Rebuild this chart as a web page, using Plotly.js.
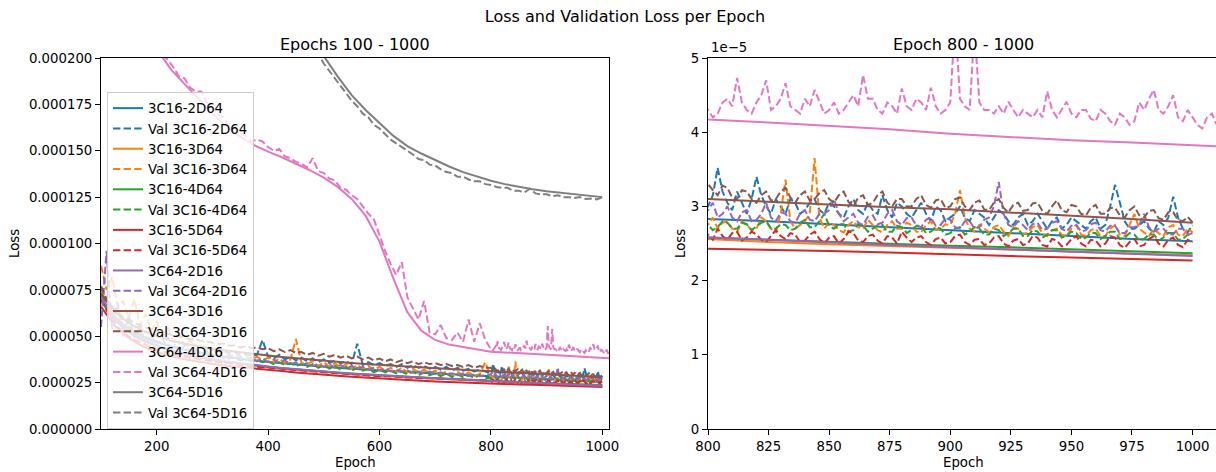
<!DOCTYPE html>
<html><head><meta charset="utf-8">
<script src="https://cdn.plot.ly/plotly-3.0.1.min.js"></script>
<style>html,body{margin:0;padding:0;overflow:hidden;background:#fff}#chart{width:1230px;height:472px}</style>
</head><body><div id="chart"></div>
<script>
// ---------- DATA (loss values in units of 1e-5) ----------
const SCALE = 1e-5;
const models = ['3C16-2D64','3C16-3D64','3C16-4D64','3C16-5D64','3C64-2D16','3C64-3D16','3C64-4D16','3C64-5D16'];
const colors = ['#1f77b4','#ff7f0e','#2ca02c','#d62728','#9467bd','#8c564b','#e377c2','#7f7f7f'];

const epochsTrain = [100,125,150,175,200,225,250,275,300,325,350,375,400,425,450,475,500,525,550,575,600,625,650,675,700,725,750,775,800,825,850,875,900,925,950,975,1000];
const epochsTrainPink = [100,125,150,175,200,225,250,275,300,325,350,375,400,425,450,475,500,525,550,575,600,625,650,675,700,725,750,775,800,825,850,875,900,925,950,975,1000,1025];
const epochsTrainGray = [450,475,500,525,550,575,600,625,650,675,700,725,750,775,800,825,850,875,900,925,950,975,1000];

const epochsValEarly = [100,110,120,130,140,150,160,170,180,190,200,210,220,230,240,250,260,270,280,290,
  300,310,320,330,340,350,360,370,380,390,400,410,420,430,440,450,460,470,480,490,
  500,510,520,530,540,550,560,570,580,590,600,610,620,630,640,650,660,670,680,690,
  700,710,720,730,740,750,760,770,780,790];
const epochsValLate = [800,802,804,806,808,810,812,814,816,818,820,822,824,826,828,830,832,834,836,838,
  840,842,844,846,848,850,852,854,856,858,860,862,864,866,868,870,872,874,876,878,
  880,882,884,886,888,890,892,894,896,898,900,902,904,906,908,910,912,914,916,918,
  920,922,924,926,928,930,932,934,936,938,940,942,944,946,948,950,952,954,956,958,
  960,962,964,966,968,970,972,974,976,978,980,982,984,986,988,990,992,994,996,998,1000];
const epochsValPinkExtra = [1002,1004,1006,1008,1010,1012,1014,1016,1018,1020,1022,1024,1026,1028];
const epochsValGray = [450,460,470,480,490,500,510,520,530,540,550,560,570,580,590,600,610,620,630,640,
  650,660,670,680,690,700,710,720,730,740,750,760,770,780,790,800,810,820,830,840,
  850,860,870,880,890,900,910,920,930,940,950,960,970,980,990,1000];
const epochsVal = epochsValEarly.concat(epochsValLate);
const epochsValPink = epochsVal.concat(epochsValPinkExtra);

// training loss
const loss_3C16_2D64 = [7.00,6.00,5.40,4.98,4.68,4.45,4.27,4.12,3.99,3.88,3.78,3.69,3.61,3.54,3.47,3.41,3.35,3.30,3.25,3.20,3.15,3.11,3.07,3.03,2.99,2.95,2.91,2.87,2.83,2.80,2.76,2.72,2.68,2.64,2.60,2.56,2.53];
const loss_3C16_3D64 = [7.40,6.10,5.35,4.85,4.50,4.24,4.04,3.88,3.74,3.62,3.52,3.43,3.35,3.27,3.20,3.14,3.08,3.02,2.97,2.92,2.88,2.84,2.80,2.76,2.72,2.68,2.64,2.59,2.55,2.52,2.49,2.47,2.44,2.42,2.39,2.37,2.34];
const loss_3C16_4D64 = [6.90,5.85,5.20,4.76,4.45,4.21,4.02,3.86,3.73,3.61,3.51,3.42,3.34,3.27,3.20,3.14,3.08,3.03,2.98,2.93,2.89,2.85,2.81,2.77,2.73,2.70,2.66,2.62,2.58,2.55,2.53,2.50,2.47,2.45,2.42,2.40,2.37];
const loss_3C16_5D64 = [6.60,5.55,4.90,4.45,4.15,3.93,3.76,3.62,3.50,3.41,3.33,3.26,3.20,3.12,3.05,2.98,2.92,2.87,2.82,2.77,2.72,2.68,2.64,2.60,2.56,2.53,2.49,2.46,2.43,2.42,2.40,2.38,2.35,2.33,2.31,2.29,2.27];
const loss_3C64_2D16 = [7.10,6.00,5.30,4.85,4.52,4.27,4.07,3.91,3.77,3.65,3.55,3.45,3.37,3.29,3.22,3.16,3.10,3.04,2.99,2.94,2.90,2.86,2.82,2.78,2.74,2.70,2.66,2.62,2.58,2.55,2.51,2.48,2.45,2.42,2.39,2.36,2.33];
const loss_3C64_3D16 = [7.30,6.30,5.70,5.30,5.00,4.77,4.60,4.46,4.34,4.23,4.13,4.04,3.96,3.88,3.81,3.74,3.68,3.62,3.56,3.51,3.46,3.41,3.36,3.32,3.28,3.24,3.20,3.15,3.10,3.06,3.03,2.99,2.96,2.92,2.88,2.83,2.78];
const loss_3C64_4D16 = [27.0,25.0,23.4,21.9,20.5,19.4,18.6,17.8,17.0,16.3,15.75,15.3,14.95,14.65,14.3,13.95,13.55,13.05,12.4,11.5,10.1,8.1,6.3,5.3,4.8,4.55,4.42,4.3,4.17,4.13,4.09,4.04,3.98,3.93,3.89,3.86,3.83,3.79];
const loss_3C64_5D16 = [22.8,21.3,20.1,19.0,18.0,17.2,16.5,15.8,15.25,14.85,14.5,14.15,13.85,13.6,13.38,13.2,13.05,12.93,12.82,12.73,12.65,12.57,12.5];

// validation loss
const val_3C16_2D64 = [7.6,6.9,6.6,6.3,5.9,5.8,5.5,5.5,5.2,5.2, 5.0,4.9,4.9,4.7,4.7,4.6,4.5,4.5,4.4,4.35,
  4.3,4.25,4.2,4.1,4.15,4.0,4.05,3.95,4.0,4.8, 3.9,3.8,4.0,3.75,3.9,3.7,3.85,3.65,3.8,3.6,
  3.75,3.55,3.7,3.55,3.65,3.5,4.6,3.45,3.6,3.45, 3.55,3.4,3.5,3.35,3.5,3.3,3.45,3.3,3.4,3.25,
  3.35,3.2,3.35,3.15,3.3,3.15,3.25,3.1,3.2,3.1,
  3.0,3.15,3.52,3.2,3.05,2.95,3.2,3.05,2.9,3.1, 3.4,3.15,3.0,2.9,3.1,3.0,2.9,3.1,3.05,2.9,
  2.95,3.05,3.1,2.95,2.9,3.05,3.0,2.9,2.85,3.0, 3.1,2.95,2.9,3.05,2.95,2.9,3.15,2.95,2.85,3.05,
  3.0,2.9,2.85,2.95,3.05,2.9,2.8,3.0,2.95,2.8, 2.85,2.9,3.0,2.85,2.8,2.95,2.9,2.85,2.75,2.85,
  2.95,2.9,2.8,2.75,2.85,2.9,2.75,2.8,2.9,2.8, 2.7,2.8,2.85,2.7,2.75,2.85,2.8,2.75,2.7,2.8,
  2.85,2.7,2.75,3.0,3.29,3.05,2.8,2.7,2.7,2.75, 2.8,2.7,2.65,2.8,2.75,2.85,3.13,2.85,2.7,2.65,
  2.75];
const val_3C16_3D64 = [8.8,7.5,8.2,6.6,6.9,6.0,7.0,5.6,6.2,5.3, 5.8,4.9,5.5,4.7,5.1,4.5,4.8,4.3,4.5,4.2,
  4.3,4.0,4.2,3.9,4.05,3.85,3.95,3.75,3.9,3.7, 3.85,3.6,3.8,3.55,3.75,4.85,3.55,3.5,3.65,3.4,
  3.6,3.35,3.55,3.3,3.5,3.25,3.45,3.25,3.4,3.2, 3.35,3.15,3.3,3.1,3.3,3.05,3.25,3.05,3.2,3.0,
  3.15,2.95,3.1,2.9,3.1,2.85,3.05,2.85,2.95,3.6,
  2.75,2.85,2.7,2.78,2.8,2.7,2.65,2.8,2.75,2.68, 2.7,2.85,2.8,2.7,2.65,2.9,3.36,2.8,2.7,2.75,
  2.8,2.9,3.65,2.85,2.7,2.78,2.75,2.68,2.65,2.75, 2.8,2.72,2.7,2.82,2.75,2.68,2.65,2.75,2.8,2.7,
  2.7,2.78,2.75,2.66,2.65,2.75,2.8,2.68,2.7,2.76, 2.75,2.9,3.22,2.85,2.7,2.66,2.75,2.7,2.65,2.72,
  2.75,2.66,2.6,2.72,2.7,2.62,2.65,2.72,2.75,2.64, 2.6,2.68,2.7,2.62,2.6,2.7,2.75,2.62,2.6,2.68,
  2.7,2.6,2.6,2.7,2.75,2.62,2.6,2.75,2.9,2.7, 2.65,2.6,2.7,2.64,2.6,2.72,2.75,2.62,2.6,2.7,
  2.65];
const val_3C16_4D64 = [7.2,6.8,6.1,5.9,5.6,5.5,5.2,5.1,4.95,4.85, 4.75,4.6,4.55,4.45,4.4,4.3,4.25,4.15,4.1,4.0,
  4.0,3.9,3.9,3.8,3.85,3.7,3.75,3.65,3.7,3.6, 3.65,3.5,3.6,3.45,3.55,3.4,3.5,3.35,3.5,3.3,
  3.45,3.25,3.4,3.2,3.35,3.15,3.3,3.15,3.25,3.05, 3.2,3.05,3.15,3.0,3.1,2.95,3.1,2.9,3.05,2.9,
  3.0,2.85,3.0,2.8,2.95,2.8,2.9,2.75,2.9,2.75,
  2.75,2.68,2.72,2.8,2.78,2.7,2.7,2.78,2.76,2.68, 2.73,2.78,2.8,2.7,2.7,2.76,2.75,2.68,2.7,2.78,
  2.82,2.72,2.72,2.8,2.9,2.74,2.7,2.76,2.76,2.66, 2.68,2.76,2.74,2.66,2.7,2.74,2.75,2.66,2.66,2.74,
  2.72,2.64,2.68,2.74,2.74,2.64,2.66,2.72,2.7,2.62, 2.64,2.7,2.72,2.62,2.66,2.72,2.7,2.62,2.62,2.7,
  2.68,2.6,2.64,2.7,2.7,2.6,2.6,2.68,2.66,2.58, 2.62,2.68,2.68,2.58,2.6,2.66,2.64,2.56,2.58,2.64,
  2.64,2.56,2.6,2.66,2.66,2.56,2.58,2.64,2.62,2.54, 2.56,2.62,2.62,2.54,2.58,2.64,2.64,2.55,2.56,2.62,
  2.6];
const val_3C16_5D64 = [7.0,6.4,5.9,5.5,5.2,5.0,4.8,4.7,4.55,4.4, 4.3,4.2,4.1,4.0,3.95,3.9,3.85,3.8,3.72,3.7,
  3.65,3.6,3.58,3.52,3.5,3.45,3.44,3.4,3.36,3.34, 3.32,3.28,3.26,3.22,3.2,3.16,3.15,3.12,3.1,3.08,
  3.05,3.03,3.0,2.99,2.96,2.95,2.92,2.91,2.88,2.87, 2.86,2.84,2.82,2.8,2.8,2.77,2.76,2.74,2.73,2.72,
  2.7,2.69,2.68,2.66,2.66,2.64,2.63,2.62,2.62,2.6,
  2.62,2.55,2.7,2.6,2.55,2.64,2.66,2.54,2.58,2.66, 2.62,2.55,2.52,2.6,2.68,2.6,2.56,2.64,2.62,2.52,
  2.54,2.62,2.66,2.56,2.5,2.58,2.6,2.5,2.56,2.66, 2.64,2.54,2.52,2.6,2.62,2.54,2.5,2.6,2.58,2.5,
  2.66,2.58,2.52,2.58,2.6,2.52,2.48,2.56,2.58,2.5, 2.52,2.6,2.62,2.52,2.48,2.55,2.56,2.48,2.5,2.58,
  2.6,2.5,2.46,2.54,2.56,2.48,2.5,2.6,2.58,2.48, 2.46,2.56,2.54,2.46,2.48,2.56,2.6,2.5,2.46,2.55,
  2.54,2.46,2.5,2.6,2.58,2.48,2.44,2.52,2.56,2.46, 2.48,2.56,2.6,2.5,2.46,2.55,2.58,2.48,2.45,2.55,
  2.52];
const val_3C64_2D16 = [5.5,9.6,5.4,6.8,5.0,6.1,4.9,5.5,4.7,5.1, 4.5,4.9,4.3,4.6,4.2,4.5,4.1,4.3,4.0,4.2,
  3.9,4.1,3.8,4.0,3.75,3.9,3.7,3.85,3.65,3.8, 3.6,3.75,3.55,3.7,3.5,3.6,3.45,3.55,3.4,3.5,
  3.35,3.5,3.3,3.45,3.25,3.4,3.25,3.35,3.2,3.3, 3.15,3.25,3.1,3.2,3.1,3.15,3.05,3.1,3.0,3.1,
  2.95,3.05,2.95,3.0,2.9,3.0,2.85,2.95,2.85,2.9,
  2.95,3.05,2.85,2.9,3.0,2.85,2.8,2.92,2.95,2.8, 2.82,2.9,3.05,2.85,2.8,2.92,2.9,2.8,2.78,2.9,
  2.95,2.82,2.8,2.9,2.9,2.95,3.1,2.9,2.8,2.85, 2.9,2.78,2.75,2.86,2.88,2.76,2.78,2.9,2.95,2.8,
  2.75,2.84,2.85,2.74,2.72,2.82,2.85,2.74,2.75,2.84, 2.82,2.72,2.7,2.8,2.8,2.7,2.72,2.82,2.85,3.0,
  3.33,2.9,2.75,2.72,2.8,2.75,2.68,2.76,2.78,2.68, 2.7,2.78,2.8,2.7,2.66,2.74,2.75,2.66,2.68,2.76,
  2.78,2.68,2.66,2.74,2.74,2.64,2.64,2.72,2.72,2.75, 2.9,2.72,2.66,2.7,2.7,2.62,2.62,2.7,2.7,2.62,
  2.64];
const val_3C64_3D16 = [7.7,7.0,6.6,6.3,6.0,5.9,5.7,5.6,5.45,5.4, 5.3,5.2,5.15,5.0,5.0,4.9,4.85,4.8,4.75,4.7,
  4.65,4.6,4.6,4.5,4.5,4.4,4.45,4.35,4.4,4.3, 4.35,4.2,4.3,4.15,4.25,4.1,4.15,4.0,4.1,3.95,
  4.05,3.9,4.0,3.85,3.95,3.8,3.9,3.75,3.85,3.7, 3.8,3.65,3.75,3.6,3.7,3.55,3.65,3.5,3.6,3.5,
  3.55,3.45,3.5,3.4,3.45,3.35,3.45,3.3,3.4,3.3,
  3.3,3.22,3.15,3.28,3.25,3.12,3.1,3.22,3.2,3.1, 3.05,3.15,3.2,3.08,3.1,3.2,3.25,3.12,3.05,3.15,
  3.2,3.08,3.1,3.18,3.22,3.1,3.05,3.15,3.2,3.06, 3.0,3.12,3.15,3.02,3.05,3.15,3.2,3.05,3.0,3.1,
  3.1,3.0,3.0,3.1,3.15,3.02,2.98,3.08,3.1,2.98, 3.0,3.1,3.12,3.0,2.95,3.05,3.08,2.96,2.95,3.05,
  3.1,2.98,2.92,3.02,3.05,2.94,2.95,3.04,3.05,2.94, 2.9,3.0,3.08,2.95,2.92,3.02,3.0,2.9,2.88,2.98,
  3.02,2.9,2.9,2.98,2.98,2.88,2.85,2.95,3.0,2.88, 2.85,2.94,2.95,2.84,2.82,2.92,2.92,2.82,2.8,2.86,
  2.78];
const val_3C64_4D16 = [27.4,26.4,25.7,24.6,24.0,23.6,22.9,22.5,21.8,21.3, 20.9,20.2,19.9,19.5,19.0,18.9,18.4,18.2,18.2,17.6,
  17.3,16.9,16.8,16.3,16.2,15.9,15.8,15.5,15.6,15.5, 15.2,15.0,15.1,14.7,14.6,14.4,14.3,14.1,14.6,13.9,
  13.8,13.5,13.4,13.0,12.9,12.6,12.4,12.0,11.6,11.3, 10.4,9.6,8.9,8.3,9.0,7.1,6.5,5.9,6.9,5.2,
  5.1,5.6,4.9,4.8,5.2,4.7,5.9,4.7,5.7,4.8,
  4.3,4.2,4.25,4.4,4.45,4.35,4.73,4.4,4.3,4.25, 4.4,4.5,4.7,4.3,4.35,4.45,4.66,4.35,4.3,4.25,
  4.45,4.35,4.57,4.4,4.25,4.3,4.4,4.25,4.3,4.4, 4.5,4.35,4.77,4.45,4.45,4.3,4.25,4.4,4.35,4.25,
  4.59,4.35,4.3,4.45,4.4,4.3,4.6,4.35,4.25,4.3, 4.4,5.55,4.45,4.35,4.3,5.4,4.4,4.3,4.3,4.25,
  4.35,4.25,4.41,4.3,4.2,4.3,4.25,4.2,4.3,4.2, 4.55,4.3,4.2,4.3,4.41,4.25,4.2,4.3,4.3,4.18,
  4.15,4.3,4.25,4.15,4.1,4.25,4.2,4.1,4.15,4.4, 4.3,4.45,4.57,4.3,4.25,4.35,4.5,4.2,4.15,4.3,
  4.2,4.1,4.05,4.2,4.25,4.1,4.1,4.2,4.2,4.05, 4.05,4.15,4.15,4.05,4.1];
const val_3C64_5D16 = [22.4,21.8,21.2,20.7,20.2,19.7,19.3,18.9,18.5,18.1, 17.7,17.4,17.0,16.8,16.4,16.2,15.9,15.6,15.4,15.2,
  15.0,14.8,14.55,14.5,14.25,14.2,14.0,13.85,13.8,13.6, 13.6,13.45,13.35,13.35,13.2,13.15,13.05,13.0,13.0,12.85,
  12.85,12.75,12.95,12.7,12.65,12.65,12.55,12.6,12.5,12.5, 12.45,12.5,12.4,12.42,12.38,12.5];

const trainData = [loss_3C16_2D64,loss_3C16_3D64,loss_3C16_4D64,loss_3C16_5D64,loss_3C64_2D16,loss_3C64_3D16,loss_3C64_4D16,loss_3C64_5D16];
const valData = [val_3C16_2D64,val_3C16_3D64,val_3C16_4D64,val_3C16_5D64,val_3C64_2D16,val_3C64_3D16,val_3C64_4D16,val_3C64_5D16];
const trainEpochs = [epochsTrain,epochsTrain,epochsTrain,epochsTrain,epochsTrain,epochsTrain,epochsTrainPink,epochsTrainGray];
const valEpochs = [epochsVal,epochsVal,epochsVal,epochsVal,epochsVal,epochsVal,epochsValPink,epochsValGray];

// ---------- FIGURE ----------
const W = 1230, H = 472;
const px = v => v / W, py = v => 1 - v / H;
const FONT = 'DejaVu Sans, Liberation Sans, sans-serif';
const DASH = '7.4px,3.2px';

const traces = [];
[['x','y',true],['x2','y2',false]].forEach(([xa,ya,leg]) => {
  models.forEach((m,i) => {
    traces.push({type:'scatter',mode:'lines',name:m,x:trainEpochs[i],y:trainData[i].map(v=>v*SCALE),
      xaxis:xa,yaxis:ya,showlegend:leg,line:{color:colors[i],width:2},hoverinfo:'skip'});
    traces.push({type:'scatter',mode:'lines',name:'Val '+m,x:valEpochs[i],y:valData[i].map(v=>v*SCALE),
      xaxis:xa,yaxis:ya,showlegend:leg,line:{color:colors[i],width:2,dash:DASH},hoverinfo:'skip'});
  });
});

const axisBase = {showline:true,linecolor:'#000',linewidth:1,mirror:true,ticks:'outside',ticklen:5,tickwidth:1,
  tickcolor:'#000',showgrid:false,zeroline:false,automargin:false,tickfont:{family:FONT,size:13.3,color:'#000'}};
const yDom = [py(429), py(58)];

const layout = {
  width:W,height:H,margin:{l:0,r:0,t:0,b:0},paper_bgcolor:'#fff',plot_bgcolor:'#fff',
  font:{family:FONT,color:'#000'},
  title:{text:'Loss and Validation Loss per Epoch',x:px(625),xanchor:'center',xref:'paper',y:py(16),yanchor:'middle',yref:'container',font:{family:FONT,size:16,color:'#000'}},
  xaxis:Object.assign({},axisBase,{domain:[px(101),px(609)],range:[100,1012],tickvals:[200,400,600,800,1000],anchor:'y'}),
  yaxis:Object.assign({},axisBase,{domain:yDom,range:[0,20*SCALE],tickvals:[0,2.5e-5,5e-5,7.5e-5,10e-5,12.5e-5,15e-5,17.5e-5,20e-5],tickformat:'.6f',anchor:'x'}),
  xaxis2:Object.assign({},axisBase,{domain:[px(708),px(1218)],range:[800,1010.5],tickvals:[800,825,850,875,900,925,950,975,1000],anchor:'y2'}),
  yaxis2:Object.assign({},axisBase,{domain:yDom,range:[0,5*SCALE],tickvals:[0,1e-5,2e-5,3e-5,4e-5,5e-5],ticktext:['0','1','2','3','4','5'],anchor:'x2'}),
  legend:{x:px(107),y:py(92),xanchor:'left',yanchor:'top',bgcolor:'rgba(255,255,255,0.8)',bordercolor:'#cccccc',borderwidth:1,
    font:{family:FONT,size:13.3,color:'#000'},traceorder:'normal',itemwidth:30},
  annotations:[
    {text:'Epochs 100 - 1000',xref:'paper',yref:'paper',x:px(355),y:py(45),xanchor:'center',yanchor:'middle',showarrow:false,font:{family:FONT,size:16,color:'#000'}},
    {text:'Epoch 800 - 1000',xref:'paper',yref:'paper',x:px(963),y:py(45),xanchor:'center',yanchor:'middle',showarrow:false,font:{family:FONT,size:16,color:'#000'}},
    {text:'Epoch',xref:'paper',yref:'paper',x:px(355),y:py(462),xanchor:'center',yanchor:'middle',showarrow:false,font:{family:FONT,size:13.3,color:'#000'}},
    {text:'Epoch',xref:'paper',yref:'paper',x:px(963),y:py(462),xanchor:'center',yanchor:'middle',showarrow:false,font:{family:FONT,size:13.3,color:'#000'}},
    {text:'Loss',xref:'paper',yref:'paper',x:px(15),y:py(244),xanchor:'center',yanchor:'middle',textangle:-90,showarrow:false,font:{family:FONT,size:13.3,color:'#000'}},
    {text:'Loss',xref:'paper',yref:'paper',x:px(681),y:py(244),xanchor:'center',yanchor:'middle',textangle:-90,showarrow:false,font:{family:FONT,size:13.3,color:'#000'}},
    {text:'1e\u22125',xref:'paper',yref:'paper',x:px(709),y:py(48),xanchor:'left',yanchor:'middle',showarrow:false,font:{family:FONT,size:13.3,color:'#000'}}
  ]
};

Plotly.newPlot('chart', traces, layout, {staticPlot:true,displayModeBar:false});
</script></body></html>
